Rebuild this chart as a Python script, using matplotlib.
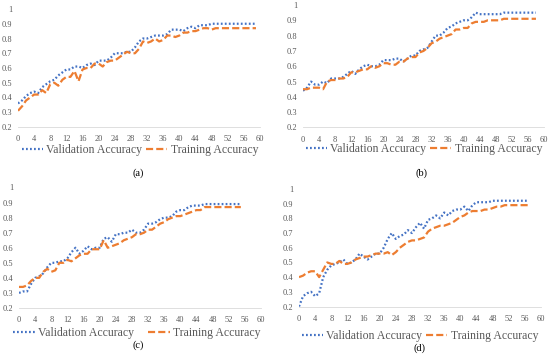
import numpy as np
import matplotlib
matplotlib.use('Agg')
from matplotlib import pyplot as plt

################################################################################
# data (accuracy per epoch)

val_a = [0.36, 0.38, 0.41, 0.43, 0.44, 0.43, 0.47, 0.49, 0.51, 0.52,
		 0.55, 0.57, 0.59, 0.59, 0.61, 0.61, 0.60, 0.62, 0.63, 0.62,
		 0.65, 0.65, 0.65, 0.67, 0.70, 0.70, 0.70, 0.71, 0.71, 0.74,
		 0.78, 0.80, 0.80, 0.81, 0.82, 0.82, 0.82, 0.83, 0.86, 0.86,
		 0.86, 0.85, 0.87, 0.88, 0.87, 0.89, 0.89, 0.89, 0.90, 0.90,
		 0.90, 0.90, 0.90, 0.90, 0.90, 0.90, 0.90, 0.90, 0.90, 0.90]
train_a = [0.31, 0.34, 0.38, 0.40, 0.42, 0.42, 0.45, 0.43, 0.49, 0.50,
		   0.48, 0.52, 0.54, 0.54, 0.58, 0.51, 0.59, 0.60, 0.60, 0.63,
		   0.63, 0.61, 0.64, 0.65, 0.65, 0.67, 0.69, 0.71, 0.70, 0.70,
		   0.73, 0.78, 0.77, 0.78, 0.80, 0.78, 0.79, 0.82, 0.82, 0.81,
		   0.82, 0.84, 0.84, 0.85, 0.85, 0.86, 0.87, 0.87, 0.86, 0.87,
		   0.87, 0.87, 0.87, 0.87, 0.87, 0.87, 0.87, 0.87, 0.87, 0.87]

val_b = [0.44, 0.46, 0.50, 0.48, 0.48, 0.50, 0.49, 0.52, 0.52, 0.52,
		 0.53, 0.55, 0.57, 0.55, 0.58, 0.60, 0.61, 0.60, 0.60, 0.61,
		 0.64, 0.64, 0.64, 0.65, 0.65, 0.63, 0.65, 0.67, 0.67, 0.70,
		 0.71, 0.72, 0.76, 0.80, 0.80, 0.82, 0.85, 0.86, 0.88, 0.89,
		 0.90, 0.90, 0.92, 0.95, 0.94, 0.94, 0.94, 0.94, 0.94, 0.94,
		 0.95, 0.95, 0.95, 0.95, 0.95, 0.95, 0.95, 0.95, 0.95]
train_b = [0.45, 0.45, 0.46, 0.46, 0.46, 0.45, 0.50, 0.51, 0.51, 0.52,
		   0.52, 0.53, 0.56, 0.56, 0.57, 0.58, 0.58, 0.60, 0.59, 0.60,
		   0.62, 0.62, 0.61, 0.61, 0.63, 0.63, 0.65, 0.66, 0.66, 0.69,
		   0.70, 0.72, 0.75, 0.76, 0.78, 0.79, 0.80, 0.81, 0.84, 0.84,
		   0.85, 0.85, 0.88, 0.89, 0.89, 0.89, 0.90, 0.90, 0.90, 0.90,
		   0.91, 0.91, 0.91, 0.91, 0.91, 0.91, 0.91, 0.91, 0.91]

val_c = [0.30, 0.31, 0.31, 0.36, 0.40, 0.41, 0.43, 0.47, 0.50, 0.50,
		 0.51, 0.51, 0.53, 0.57, 0.60, 0.56, 0.58, 0.61, 0.59, 0.60,
		 0.60, 0.66, 0.67, 0.64, 0.69, 0.69, 0.70, 0.70, 0.72, 0.70,
		 0.70, 0.72, 0.76, 0.76, 0.77, 0.79, 0.80, 0.80, 0.81, 0.84,
		 0.85, 0.85, 0.87, 0.88, 0.88, 0.88, 0.89, 0.89, 0.89, 0.89,
		 0.89, 0.89, 0.89, 0.89, 0.89, 0.89]
train_c = [0.34, 0.34, 0.35, 0.38, 0.40, 0.40, 0.44, 0.46, 0.44, 0.45,
		   0.50, 0.50, 0.52, 0.51, 0.53, 0.55, 0.56, 0.56, 0.59, 0.59,
		   0.59, 0.65, 0.60, 0.61, 0.62, 0.63, 0.65, 0.66, 0.67, 0.69,
		   0.69, 0.70, 0.72, 0.72, 0.74, 0.76, 0.77, 0.79, 0.80, 0.81,
		   0.81, 0.82, 0.83, 0.84, 0.85, 0.85, 0.87, 0.87, 0.87, 0.87,
		   0.87, 0.87, 0.87, 0.87, 0.87, 0.87]

val_d = [0.20, 0.27, 0.29, 0.30, 0.27, 0.29, 0.40, 0.45, 0.48, 0.49,
		 0.50, 0.52, 0.49, 0.50, 0.52, 0.56, 0.54, 0.52, 0.54, 0.56,
		 0.56, 0.60, 0.66, 0.70, 0.66, 0.68, 0.69, 0.72, 0.70, 0.74,
		 0.77, 0.73, 0.79, 0.80, 0.82, 0.80, 0.84, 0.82, 0.85, 0.86,
		 0.86, 0.88, 0.85, 0.89, 0.91, 0.91, 0.91, 0.91, 0.92, 0.92,
		 0.92, 0.92, 0.92, 0.92, 0.92, 0.92, 0.92, 0.92]
train_d = [0.40, 0.41, 0.43, 0.44, 0.44, 0.40, 0.45, 0.50, 0.49, 0.49,
		   0.51, 0.49, 0.49, 0.50, 0.52, 0.53, 0.54, 0.54, 0.55, 0.56,
		   0.56, 0.56, 0.57, 0.55, 0.57, 0.60, 0.62, 0.64, 0.65, 0.65,
		   0.66, 0.67, 0.71, 0.73, 0.74, 0.75, 0.75, 0.76, 0.77, 0.79,
		   0.81, 0.82, 0.84, 0.85, 0.85, 0.85, 0.86, 0.86, 0.87, 0.88,
		   0.88, 0.89, 0.89, 0.89, 0.89, 0.89, 0.89, 0.89]

x_ticks = list(range(0, 61, 4))
y_ticks = [0.2, 0.3, 0.4, 0.5, 0.6, 0.7, 0.8, 0.9, 1.0]
y_labels = ['0.2', '0.3', '0.4', '0.5', '0.6', '0.7', '0.8', '0.9', '1']
captions = ['(a)', '(b)', '(c)', '(d)']

################################################################################

plt.rcParams['font.family'] = ['Liberation Serif', 'DejaVu Serif']
blue = '#4472C4'
orange = '#ED7D31'
grey = '#595959'

fig = plt.figure(figsize=(5.5, 3.56), dpi=100)

# [left, bottom, width, height], legend (x, y), col spacing, caption (x, y)
panels = [
	(val_a, train_a, [18, 229, 242, 118], (140, 150.5), 0.3, (138, 173)),
	(val_b, train_b, [303, 228.5, 241, 122.5], (424, 149), 0.3, (421, 173)),
	(val_c, train_c, [19, 48, 242, 120.5], (137, 333), 1.2, (138, 345)),
	(val_d, train_d, [299, 49.5, 242, 117.5], (420, 336), 0.3, (419, 348)),
]

W, H = 550., 356.
for index, (val, train, box, leg_pos, spacing, cap_pos) in enumerate(panels):
	ax = fig.add_axes([box[0]/W, box[1]/H, box[2]/W, box[3]/H])
	ax.plot(np.arange(len(val)), val, color=blue, lw=1.6,
			linestyle=(0, (0.8, 1.0)), label='Validation Accuracy')
	ax.plot(np.arange(len(train)), train, color=orange, lw=1.6,
			linestyle=(0, (3.2, 1.4)), label='Training Accuracy')
	ax.set_xlim(0, 60)
	ax.set_ylim(0.2, 1.0)
	ax.set_xticks(x_ticks)
	ax.set_yticks(y_ticks)
	ax.set_yticklabels(y_labels)
	ax.tick_params(length=0, labelsize=6, colors=grey)
	ax.tick_params(axis='x', pad=6)
	ax.tick_params(axis='y', pad=4)
	for side in ['top', 'right', 'left']:
		ax.spines[side].set_visible(False)
	ax.spines['bottom'].set_color('#D9D9D9')
	ax.spines['bottom'].set_linewidth(0.6)
	ax.legend(loc='center', bbox_to_anchor=(leg_pos[0]/W, 1 - leg_pos[1]/H),
			  bbox_transform=fig.transFigure, ncol=2, frameon=False,
			  fontsize=8.5, handlelength=1.8, handletextpad=0.3,
			  columnspacing=spacing, labelcolor=grey, borderpad=0.1)
	fig.text(cap_pos[0]/W, 1 - cap_pos[1]/H, captions[index],
			 ha='center', va='center', fontsize=7.5, color='black')

plt.savefig('out.png', dpi=100)

################################################################################
# EOF
